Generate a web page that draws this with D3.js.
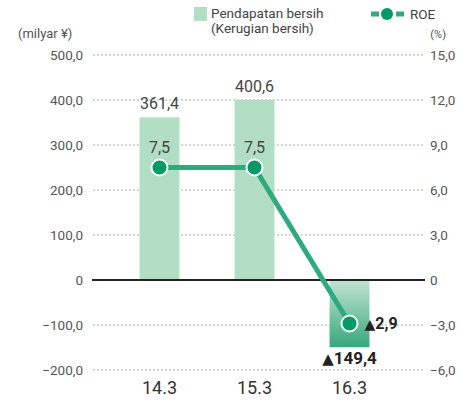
<body style="margin:0;background:#fff">
<script src="https://d3js.org/d3.v7.min.js"></script>
<script>
// data
var years = ["14.3", "15.3", "16.3"];
var income = [361.4, 400.6, -149.4];
var roe = [7.5, 7.5, -2.9];
var leftTicks = [500, 400, 300, 200, 100, 0, -100, -200];
var rightTicks = [15, 12, 9, 6, 3, 0, -3, -6];

var width = 462, height = 405;
var svg = d3.select("body").append("svg").attr("width", width).attr("height", height)
	.style("font-family", "Roboto, sans-serif");

var x = d3.scaleBand().domain(years).range([112, 397]).paddingInner(0.58).paddingOuter(0.29);
var yL = d3.scaleLinear().domain([-200, 500]).range([370, 55]);
var yR = d3.scaleLinear().domain([-6, 15]).range([370, 55]);

var fmt = function(v){ return v == 0 ? "0" : d3.format(".1f")(v).replace(".", ","); };

//gradient for the loss bar
var grad = svg.append("defs").append("linearGradient").attr("id", "neg").attr("x1", 0).attr("y1", 0).attr("x2", 0).attr("y2", 1);
grad.append("stop").attr("offset", "0%").attr("stop-color", "#c3e3d2");
grad.append("stop").attr("offset", "100%").attr("stop-color", "#36a87c");

// gridlines
svg.append("g").selectAll("line").data(leftTicks.filter(function(d){ return d != 0; })).enter().append("line")
	.attr("x1", 93).attr("x2", 424).attr("y1", function(d){ return yL(d); }).attr("y2", function(d){ return yL(d); })
	.attr("stroke", "#aaa").attr("stroke-width", 1).attr("stroke-dasharray", "2,2");

// left axis
var axL = svg.append("g").attr("transform", "translate(88,0)")
	.call(d3.axisLeft(yL).tickValues(leftTicks).tickSize(0).tickPadding(5).tickFormat(fmt));
axL.select(".domain").remove();
axL.selectAll("text").attr("font-size", 13.5).attr("fill", "#555").style("font-family", "Roboto, sans-serif");

// right axis
var axR = svg.append("g").attr("transform", "translate(427,0)")
	.call(d3.axisRight(yR).tickValues(rightTicks).tickSize(0).tickPadding(3).tickFormat(fmt));
axR.select(".domain").remove();
axR.selectAll("text").attr("font-size", 13.5).attr("fill", "#555").style("font-family", "Roboto, sans-serif");

// bars
svg.append("g").selectAll("rect").data(income).enter().append("rect")
	.attr("x", function(d, i){ return x(years[i]); })
	.attr("width", x.bandwidth())
	.attr("y", function(d){ return yL(Math.max(0, d)); })
	.attr("height", function(d){ return Math.abs(yL(d) - yL(0)); })
	.attr("fill", function(d){ return d < 0 ? "url(#neg)" : "#b2dec3"; });

// zero line
svg.append("line").attr("x1", 92).attr("x2", 425).attr("y1", yL(0)).attr("y2", yL(0))
	.attr("stroke", "#222").attr("stroke-width", 2);

// bar value labels
svg.append("g").selectAll("text").data(income.slice(0, 2)).enter().append("text")
	.attr("x", function(d, i){ return x(years[i]) + x.bandwidth() / 2; })
	.attr("y", function(d){ return yL(d) - 8; })
	.attr("text-anchor", "middle").attr("font-size", 16).attr("fill", "#444")
	.text(fmt);
var negLab = svg.append("text").attr("x", x(years[2]) + x.bandwidth() / 2).attr("y", yL(income[2]) + 17)
	.attr("text-anchor", "middle").attr("font-size", 17).attr("font-weight", "bold").attr("fill", "#222");
negLab.append("tspan").style("font-family", "DejaVu Sans").attr("font-size", 15).text("▲");
negLab.append("tspan").text(fmt(-income[2]));

// ROE line
var cx = function(d, i){ return x(years[i]) + x.bandwidth() / 2; };
var line = d3.line().x(cx).y(function(d){ return yR(d); });
svg.append("path").datum(roe).attr("d", line).attr("fill", "none").attr("stroke", "#2eaa7f").attr("stroke-width", 5);
svg.append("g").selectAll("circle").data(roe).enter().append("circle")
	.attr("cx", cx).attr("cy", function(d){ return yR(d); }).attr("r", 8)
	.attr("fill", "#009a66").attr("stroke", "#fff").attr("stroke-width", 2);

svg.append("g").selectAll("text").data(roe.slice(0, 2)).enter().append("text")
	.attr("x", cx).attr("y", function(d){ return yR(d) - 15; })
	.attr("text-anchor", "middle").attr("font-size", 16).attr("fill", "#444")
	.text(fmt);
var roeLab = svg.append("text").attr("x", cx(roe[2], 2) + 15).attr("y", yR(roe[2]) + 5)
	.attr("font-size", 16).attr("font-weight", "bold").attr("fill", "#222");
roeLab.append("tspan").style("font-family", "DejaVu Sans").attr("font-size", 14).text("▲");
roeLab.append("tspan").text(fmt(-roe[2]));

// x labels
svg.append("g").selectAll("text").data(years).enter().append("text")
	.attr("x", function(d){ return x(d) + x.bandwidth() / 2; }).attr("y", 394)
	.attr("text-anchor", "middle").attr("font-size", 18).attr("fill", "#333")
	.text(function(d){ return d; });

// unit labels
svg.append("text").attr("x", 18).attr("y", 38).attr("font-size", 13).attr("fill", "#555").text("(milyar ¥)");
svg.append("text").attr("x", 446).attr("y", 38).attr("text-anchor", "end").attr("font-size", 11).attr("fill", "#555").text("(%)");

// legend
svg.append("rect").attr("x", 194).attr("y", 7).attr("width", 13).attr("height", 14).attr("fill", "#b2dec3");
svg.append("text").attr("x", 211).attr("y", 18).attr("font-size", 13.5).attr("fill", "#444").text("Pendapatan bersih");
svg.append("text").attr("x", 211).attr("y", 33).attr("font-size", 13.5).attr("fill", "#444").text("(Kerugian bersih)");
svg.append("line").attr("x1", 371).attr("x2", 404).attr("y1", 14).attr("y2", 14).attr("stroke", "#2eaa7f").attr("stroke-width", 5).attr("stroke-dasharray", "8,17,8");
svg.append("circle").attr("cx", 387).attr("cy", 14).attr("r", 6).attr("fill", "#009a66");
svg.append("text").attr("x", 410).attr("y", 19).attr("font-size", 13.5).attr("fill", "#444").text("ROE");
</script>
</body>
